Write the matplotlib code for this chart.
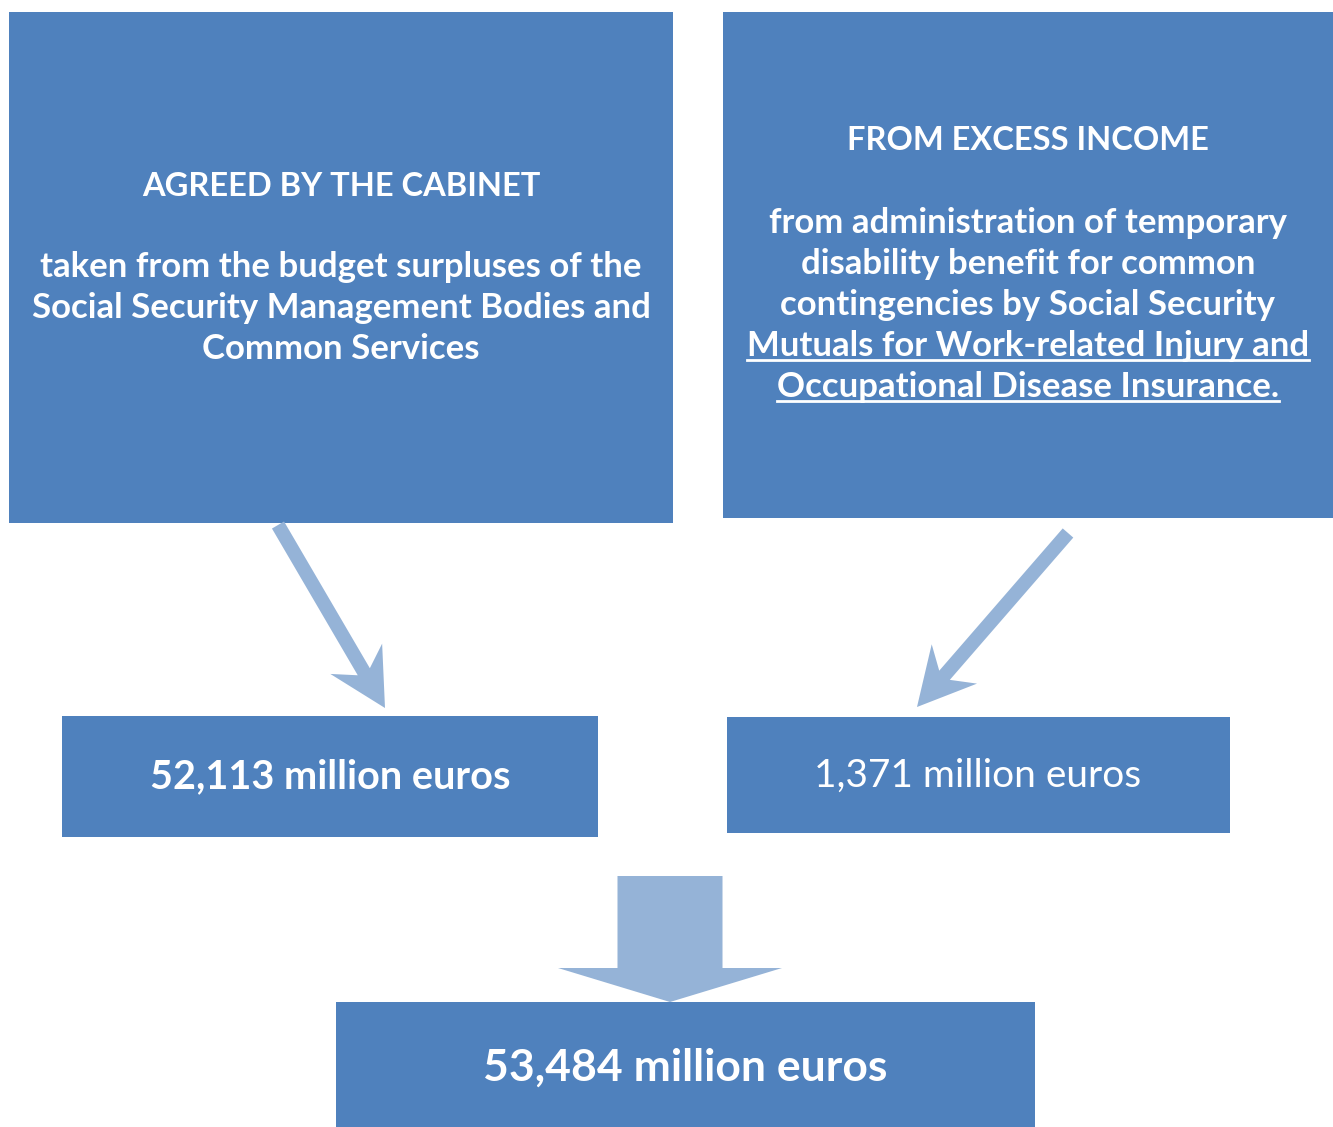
import matplotlib.pyplot as plt
from matplotlib.patches import Rectangle, Polygon
import numpy as np

box_color = "#4F81BD"
arrow_color = "#95B3D7"

left_title = "AGREED BY THE CABINET"
left_lines = ["taken from the budget surpluses of the",
              "Social Security Management Bodies and",
              "Common Services"]
right_title = "FROM EXCESS INCOME"
right_lines = ["from administration of temporary",
               "disability benefit for common",
               "contingencies by Social Security",
               "Mutuals for Work-related Injury and",
               "Occupational Disease Insurance."]
right_underlined = [False, False, False, True, True]
amount_left = "52,113 million euros"
amount_right = "1,371 million euros"
amount_total = "53,484 million euros"

W, H = 1333, 1127
fig = plt.figure(figsize=(W / 100, H / 100), dpi=100)
ax = fig.add_axes([0, 0, 1, 1])
ax.set_xlim(0, W)
ax.set_ylim(H, 0)
ax.axis("off")

FONT = "Lato"


def box(x0, y0, x1, y1):
    ax.add_patch(Rectangle((x0, y0), x1 - x0, y1 - y0, color=box_color, lw=0))


def arrow(start, tip, shaft=14, head_w=60, head_l=57, notch=15):
    s = np.array(start, float)
    t = np.array(tip, float)
    d = (t - s) / np.linalg.norm(t - s)
    n = np.array([-d[1], d[0]])
    base = t - d * head_l
    join = base + d * notch
    pts = [s + n * shaft / 2, join + n * shaft / 2, base + n * head_w / 2, t,
           base - n * head_w / 2, join - n * shaft / 2, s - n * shaft / 2]
    ax.add_patch(Polygon(pts, closed=True, color=arrow_color, lw=0))


def block_arrow(cx, top, bottom, shaft_w, head_w, head_l):
    hb = bottom - head_l
    pts = [(cx - shaft_w / 2, top), (cx + shaft_w / 2, top), (cx + shaft_w / 2, hb),
           (cx + head_w / 2, hb), (cx, bottom), (cx - head_w / 2, hb),
           (cx - shaft_w / 2, hb)]
    ax.add_patch(Polygon(pts, closed=True, color=arrow_color, lw=0))


def label(x, y, s, size=25, weight="bold", underline=False):
    t = ax.text(x, y, s, color="white", fontsize=size, fontweight=weight,
                family=[FONT, "DejaVu Sans"], ha="center", va="center")
    if underline:
        fig.canvas.draw()
        bb = t.get_window_extent(renderer=fig.canvas.get_renderer())
        inv = ax.transData.inverted()
        (xa, ya), (xb, yb) = inv.transform([(bb.x0, bb.y0), (bb.x1, bb.y1)])
        uy = max(ya, yb) - 2
        ax.plot([xa, xb], [uy, uy], color="white", lw=2)
    return t


# boxes
box(9, 12, 673, 523)
box(723, 12, 1333, 518)
box(62, 716, 598, 837)
box(727, 717, 1230, 833)
box(336, 1002, 1035, 1127)

# arrows
arrow((278, 525), (385, 708))
arrow((1068, 533), (917, 707))
block_arrow(670, 876, 1002, 105, 224, 34)

# top-left text
label(341, 186, left_title, size=23.5)
for i, line in enumerate(left_lines):
    label(341, 267 + i * 41, line)

# top-right text
label(1028, 141, right_title, size=23.5)
for i, line in enumerate(right_lines):
    label(1028, 223 + i * 41, line, underline=right_underlined[i])

# amounts
label(330, 777, amount_left, size=28.5)
label(978, 776, amount_right, size=28, weight="normal")
label(685, 1068, amount_total, size=32)

fig.savefig("out.png", dpi=100)
